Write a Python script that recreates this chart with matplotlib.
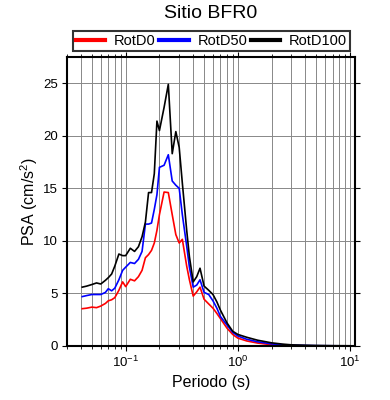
import numpy as np
import matplotlib
matplotlib.use("Agg")
import matplotlib.pyplot as plt
from matplotlib.ticker import LogLocator, FixedLocator, NullFormatter, LogFormatterSciNotation

plt.rcParams['font.family'] = ['Liberation Sans', 'DejaVu Sans']
plt.rcParams['mathtext.fontset'] = 'custom'
plt.rcParams['mathtext.rm'] = 'Liberation Sans'
plt.rcParams['mathtext.it'] = 'Liberation Sans:italic'

title = "Sitio BFR0"
xlabel = "Periodo (s)"
ylabel = "PSA (cm/s$^2$)"
series_names = ["RotD0", "RotD50", "RotD100"]
series_colors = ["#ff0000", "#0000ff", "#000000"]

periods = [0.041, 0.045, 0.05, 0.055, 0.06, 0.066, 0.07, 0.075, 0.08, 0.087,
           0.094, 0.1, 0.11, 0.12, 0.13, 0.14, 0.15, 0.16, 0.17, 0.18,
           0.19, 0.2, 0.22, 0.24, 0.26, 0.28, 0.3, 0.32, 0.35, 0.37,
           0.4, 0.43, 0.46, 0.5, 0.55, 0.6, 0.65, 0.7, 0.8, 0.9,
           1.0, 1.2, 1.5, 2.0, 2.5, 3.0, 4.0, 5.0, 7.0, 10.0]

rotd0 = [3.55, 3.6, 3.7, 3.65, 3.8, 4.05, 4.3, 4.4, 4.6, 5.3,
         6.1, 5.65, 6.35, 6.2, 6.6, 7.2, 8.4, 8.7, 9.1, 9.8,
         11.0, 12.5, 14.65, 14.6, 12.5, 10.6, 9.8, 10.15, 7.6, 6.3,
         4.75, 5.15, 5.6, 4.45, 4.0, 3.6, 3.1, 2.6, 1.7, 1.1,
         0.75, 0.48, 0.28, 0.12, 0.06, 0.03, 0.02, 0.01, 0.01, 0.0]

rotd50 = [4.7, 4.8, 4.9, 4.9, 4.9, 5.1, 5.45, 5.25, 5.5, 6.3,
          7.2, 7.5, 7.95, 7.85, 8.25, 9.0, 11.6, 11.6, 11.7, 13.0,
          14.4, 17.0, 17.2, 18.2, 15.7, 15.3, 15.0, 12.5, 9.5, 7.5,
          5.6, 5.8, 6.3, 5.1, 4.9, 4.3, 3.6, 2.8, 2.0, 1.3,
          0.95, 0.64, 0.4, 0.2, 0.12, 0.08, 0.05, 0.03, 0.02, 0.01]

rotd100 = [5.6, 5.7, 5.85, 6.0, 5.9, 6.25, 6.5, 6.85, 7.6, 8.75,
           8.6, 8.6, 9.3, 9.0, 9.45, 10.4, 11.8, 14.6, 14.6, 16.4,
           21.4, 20.5, 22.7, 24.9, 18.3, 20.4, 18.9, 15.5, 11.0, 8.5,
           6.1, 6.6, 7.4, 5.7, 5.3, 4.9, 4.2, 3.4, 2.2, 1.4,
           1.1, 0.83, 0.55, 0.3, 0.18, 0.11, 0.07, 0.05, 0.03, 0.02]

yticks = [0, 5, 10, 15, 20, 25]

fig = plt.figure(figsize=(3.9, 4.0), dpi=100)
ax = fig.add_axes([67/390, 54/400, 288/390, 289/400])

lines = []
for vals, name, col in zip([rotd0, rotd50, rotd100], series_names, series_colors):
    ln, = ax.plot(periods, vals, color=col, lw=1.2, label=name)
    lines.append(ln)

ax.set_xscale('log')
ax.set_xlim(0.030, 11.07)
ax.set_ylim(0, 27.5)
ax.xaxis.set_major_locator(LogLocator(base=10, numticks=10))
ax.xaxis.set_minor_locator(LogLocator(base=10, subs=np.arange(2, 10), numticks=20))
ax.xaxis.set_minor_formatter(NullFormatter())
ax.xaxis.set_major_formatter(LogFormatterSciNotation())
ax.yaxis.set_major_locator(FixedLocator(yticks))

ax.grid(True, which='major', axis='both', color='#888888', lw=0.7)
ax.grid(True, which='minor', axis='x', color='#888888', lw=0.7)
ax.set_axisbelow(True)

ax.tick_params(which='both', direction='out', top=True, right=True, labelsize=9.5, color='black')
ax.tick_params(which='major', length=3.6, width=0.8, pad=3)
ax.tick_params(which='minor', length=2.5, width=0.6)
for s in ax.spines.values():
    s.set_linewidth(1.5)

ax.set_xlabel(xlabel, fontsize=11.5, labelpad=3)
ax.set_ylabel(ylabel, fontsize=11.5, labelpad=2)
fig.text(211/390, 1 - 13/400, title, ha='center', va='center', fontsize=14)

leg = fig.legend(handles=lines, labels=series_names, loc='lower left',
                 bbox_to_anchor=(73/390, 1 - 51/400, 277/390, 22/400),
                 ncol=3, mode='expand', frameon=True, fancybox=False,
                 fontsize=10.5, handlelength=2.0, handletextpad=0.6,
                 borderpad=0.2, borderaxespad=0.0, columnspacing=1.0)
leg.get_frame().set_edgecolor('black')
leg.get_frame().set_linewidth(1.5)
for lh in leg.get_lines():
    lh.set_linewidth(3)

fig.savefig('out.png', dpi=100)
